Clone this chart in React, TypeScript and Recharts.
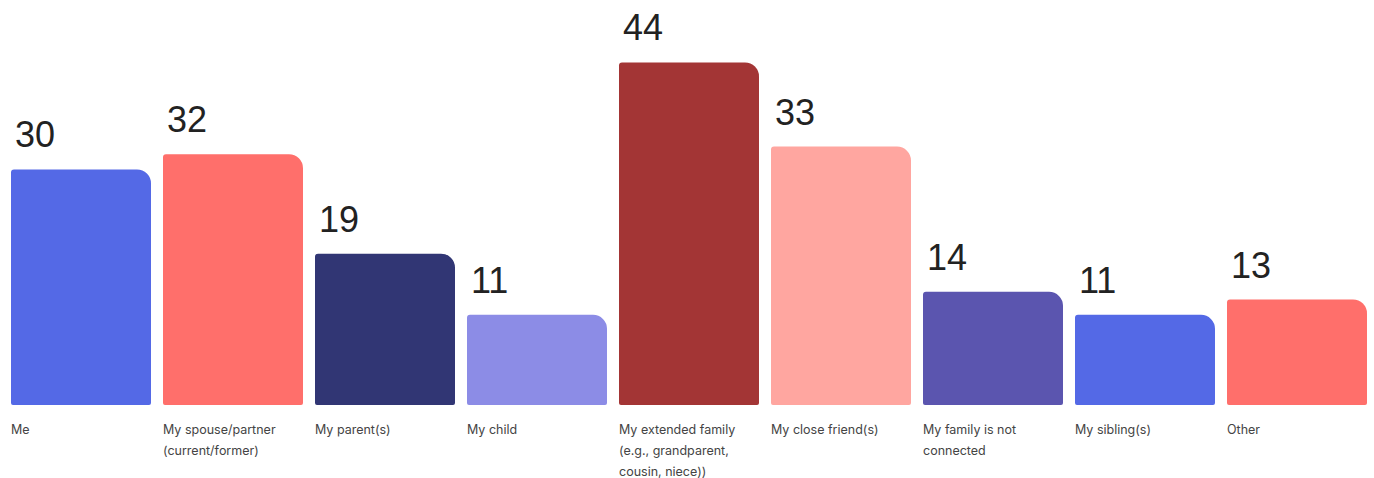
import React from "react";
import { BarChart, Bar, XAxis, YAxis, Cell, LabelList } from "recharts";

const categories: string[][] = [
  ["Me"],
  ["My spouse/partner", "(current/former)"],
  ["My parent(s)"],
  ["My child"],
  ["My extended family", "(e.g., grandparent,", "cousin, niece))"],
  ["My close friend(s)"],
  ["My family is not", "connected"],
  ["My sibling(s)"],
  ["Other"],
];
const values: number[] = [30, 32, 19, 11, 44, 33, 14, 11, 13];
const colors: string[] = [
  "#5469E6",
  "#FF6F6B",
  "#313674",
  "#8C8CE6",
  "#A33535",
  "#FFA6A0",
  "#5B55AF",
  "#5469E6",
  "#FF6F6B",
];

const BASE = -0.79;
const Y_MAX = 46.93;

const data = categories.map((lines, i) => ({
  name: lines.join(" "),
  lines,
  value: values[i],
}));

const CategoryTick = (props: any) => {
  const { x, y, payload, index } = props;
  const lines = categories[index ?? payload.index] || [payload.value];
  return (
    <g>
      {lines.map((ln: string, i: number) => (
        <text
          key={i}
          x={x - 70}
          y={y + 29 + i * 21}
          textAnchor="start"
          fontFamily="Inter, 'Noto Sans', sans-serif"
          fontSize={12.5}
          fill="#444"
        >
          {ln}
        </text>
      ))}
    </g>
  );
};

const ValueLabel = (props: any) => {
  const vb = props.viewBox || props;
  const x = vb.x ?? props.x;
  const y = vb.y ?? props.y;
  return (
    <text
      x={x + 4}
      y={y - 22}
      textAnchor="start"
      fontFamily="'Liberation Sans', Arial, sans-serif"
      fontSize={36}
      fill="#222"
    >
      {props.value}
    </text>
  );
};

export default function App() {
  return (
    <div style={{ position: "absolute", left: 0, top: 0, background: "#fff" }}>
      <BarChart
        width={1374}
        height={478}
        data={data}
        margin={{ top: 40, right: 1, bottom: 0, left: 5 }}
      >
        <XAxis
          dataKey="name"
          axisLine={false}
          tickLine={false}
          tickSize={0}
          tickMargin={0}
          height={73}
          interval={0}
          tick={<CategoryTick />}
        />
        <YAxis hide domain={[BASE, Y_MAX]} allowDataOverflow type="number" />
        <Bar
          dataKey={(d: any) => [BASE, d.value]}
          barSize={140}
          radius={[3, 14, 2, 2]}
          isAnimationActive={false}
        >
          {data.map((_, i) => (
            <Cell key={i} fill={colors[i]} />
          ))}
          <LabelList dataKey="value" content={<ValueLabel />} />
        </Bar>
      </BarChart>
    </div>
  );
}
